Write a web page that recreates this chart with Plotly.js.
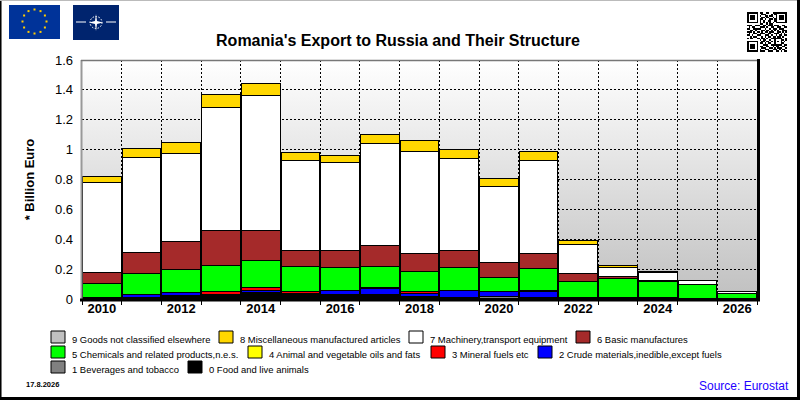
<!DOCTYPE html>
<html>
<head>
<meta charset="utf-8">
<script src="https://cdn.plot.ly/plotly-3.0.1.min.js"></script>
<style>html,body{margin:0;padding:0;background:#fff}</style>
</head>
<body>
<div id="chart-container" style="width:800px;height:400px"></div>
<script>
const years = [2010,2011,2012,2013,2014,2015,2016,2017,2018,2019,2020,2021,2022,2023,2024,2025,2026]

// stacked from the bottom up, billion euro
const food = [.012,.012,.026,.033,.045,.04,.027,.03,.02,.012,.005,.008,.01,.01,.005,.003,.002]
const beverages = [0,0,0,0,0,0,0,0,0,0,.015,0,0,0,0,0,0]
const crude = [0,.015,.015,0,.013,0,.027,.037,.018,.042,.028,.04,0,0,.008,0,0]
const mineral = [0,0,0,.02,.016,.013,0,.013,.015,0,0,.012,0,0,0,0,0]
const oils = [0,0,0,0,0,0,0,0,0,0,0,0,0,0,0,0,0]
const chemicals = [.095,.147,.154,.174,.183,.167,.158,.14,.134,.16,.099,.147,.11,.124,.107,.091,.038]
const basic = [.073,.139,.191,.233,.199,.107,.114,.14,.12,.114,.1,.1,.054,.02,.005,.001,0]
const machinery = [.6,.637,.585,.825,.905,.598,.588,.68,.683,.613,.508,.618,.194,.06,.054,.026,.01]
const misc = [.04,.06,.074,.085,.085,.055,.045,.06,.07,.06,.055,.065,.027,.013,.006,.002,.002]
const unclassified = [0,0,0,0,0,0,0,0,0,0,0,0,0,0,0,0,0]

const seriesValues = [food, beverages, crude, mineral, oils, chemicals, basic, machinery, misc, unclassified]
const seriesNames = ['0 Food and live animals', '1 Beverages and tobacco', '2 Crude materials,inedible,except fuels',
    '3 Mineral fuels etc', '4 Animal and vegetable oils and fats', '5 Chemicals and related products,n.e.s.',
    '6 Basic manufactures', '7 Machinery,transport equipment', '8 Miscellaneous manufactured articles',
    '9 Goods not classified elsewhere']
const seriesColors = ['#000000', '#808080', '#0000ff', '#ff0000', '#ffff00', '#00ff00', '#a52a2a', '#ffffff', '#ffd700', '#c0c0c0']

// legend layout in page pixels: [box left, text left, box top], same order as the series
const legendSpots = [[188,208,361], [51,71,361], [538,558,346], [431,451,346], [248,268,346],
    [51,71,346], [576,596,331], [409,429,331], [219,239,331], [51,71,331]]

const qrRows = [
    '1111111011001100111111111','1000001001110001011000001','1011101010011011001011101',
    '1011101001101100101011101','1011101011010011011011101','1000001010100110011000001',
    '1111111010101010101111111','0000000011001011000000000','1110011100110111011100110',
    '0101100011101001100110011','1100111110010010111011100','0011010001101101010100111',
    '1110101101011011100110101','0100110011100110011101010','1101001110011101001011011',
    '0010110001010110110110100','1011001101101001111111001','0000000010110010010001101',
    '1111111001101101010101010','1000001011010110010001100','1011101000111001111111011',
    '1011101011001100101100110','1011101001110011010111001','1000001010011100111010110',
    '1111111011100111001101011']

const W = 800, H = 400
const plot = {l: 82, r: 757, t: 60, b: 299}
const px = x => (x - plot.l) / (plot.r - plot.l)
const py = y => (plot.b - y) / (plot.b - plot.t)

function svgImage(svg, x0, y0, x1, y1, layer) {
    return {
        source: 'data:image/svg+xml;charset=utf-8,' + encodeURIComponent(svg),
        xref: 'paper', yref: 'paper',
        x: px(x0), y: py(y0),
        sizex: px(x1) - px(x0), sizey: py(y0) - py(y1),
        sizing: 'stretch', xanchor: 'left', yanchor: 'top', layer: layer || 'above'
    }
}

function gradientSvg() {
    return '<svg xmlns="http://www.w3.org/2000/svg" width="10" height="100" preserveAspectRatio="none">' +
        '<defs><linearGradient id="g" x1="0" y1="0" x2="0" y2="1">' +
        '<stop offset="0" stop-color="#ffffff"/><stop offset="1" stop-color="#c0c0c0"/></linearGradient></defs>' +
        '<rect width="10" height="100" fill="url(#g)"/></svg>'
}

function euFlagSvg() {
    let s = '<svg xmlns="http://www.w3.org/2000/svg" width="51" height="34"><rect width="51" height="34" fill="#003399"/>'
    for (let i = 0; i < 12; i++) {
        const a = i * Math.PI / 6
        s += '<rect x="' + (24.5 + 12 * Math.sin(a)) + '" y="' + (15.5 - 12 * Math.cos(a)) + '" width="2" height="2" fill="#ffcc00"/>'
    }
    return s + '</svg>'
}

function natoFlagSvg() {
    return '<svg xmlns="http://www.w3.org/2000/svg" width="46" height="35"><rect width="46" height="35" fill="#00246e"/>' +
        '<g fill="#fff"><rect x="3" y="16.5" width="10" height="1"/><rect x="33" y="16.5" width="10" height="1"/>' +
        '<path d="M23 9 L24 16 L30 17.5 L24 19 L23 26 L22 19 L16 17.5 L22 16 Z"/></g>' +
        '<circle cx="23" cy="17.5" r="6" fill="none" stroke="#fff" stroke-width="1" stroke-dasharray="1.5,1.5"/></svg>'
}

function qrSvg() {
    const n = qrRows.length
    let s = '<svg xmlns="http://www.w3.org/2000/svg" width="' + n + '" height="' + n + '" shape-rendering="crispEdges">'
    qrRows.forEach((row, y) => {
        row.split('').forEach((c, x) => {
            if (c === '1') s += '<rect x="' + x + '" y="' + y + '" width="1" height="1"/>'
        })
    })
    return s + '</svg>'
}

function frameLine(x0, y0, x1, y1, color, width) {
    return {type: 'line', xref: 'paper', yref: 'paper', x0: px(x0), y0: py(y0), x1: px(x1), y1: py(y1),
        line: {color: color, width: width}, layer: 'above'}
}

function note(text, x, y, size, color, bold) {
    return {xref: 'paper', yref: 'paper', x: px(x), y: py(y), xanchor: 'left', yanchor: 'middle',
        text: bold ? '<b>' + text + '</b>' : text, showarrow: false, borderpad: 0,
        font: {family: 'Liberation Sans', size: size, color: color}}
}

const data = seriesNames.map((name, i) => ({
    x: years,
    y: seriesValues[i],
    type: 'bar',
    name: name,
    showlegend: false,
    hoverinfo: 'x+y+name',
    marker: {color: seriesColors[i], line: {color: '#000', width: 1}}
}))

const legendBoxes = legendSpots.map((p, i) => ({
    type: 'rect', xref: 'paper', yref: 'paper',
    x0: px(p[0]), x1: px(p[0] + 14), y0: py(p[2]), y1: py(p[2] + 12),
    fillcolor: seriesColors[i], line: {color: '#000', width: 1}, layer: 'above'
}))

const frame = [
    frameLine(0.5, 0, 0.5, 398, '#000', 1),
    frameLine(1.5, 0, 1.5, 398, '#777', 1),
    frameLine(0, 0.5, 800, 0.5, '#bbb', 1),
    frameLine(798.5, 0, 798.5, 400, '#000', 3),
    frameLine(0, 398.5, 800, 398.5, '#000', 3),
    frameLine(81.5, 60, 81.5, 300, '#999', 2),
    frameLine(81, 60.5, 759, 60.5, '#777', 1.5),
    frameLine(758.5, 59, 758.5, 301, '#000', 3),
    frameLine(80, 300, 760, 300, '#000', 3)
]

const layout = {
    width: W,
    height: H,
    autosize: false,
    margin: {l: plot.l, r: W - plot.r, t: plot.t, b: H - plot.b, pad: 0},
    paper_bgcolor: '#ffffff',
    plot_bgcolor: 'rgba(0,0,0,0)',
    barmode: 'stack',
    bargap: 0.025,
    showlegend: false,
    title: {
        text: "<b>Romania's Export to Russia and Their Structure</b>",
        x: 398 / W, xanchor: 'center', y: 1 - 40 / H, yanchor: 'middle',
        font: {family: 'Liberation Sans', size: 16, color: '#000'}
    },
    xaxis: {
        range: [2009.5, 2026.5],
        tick0: 2010,
        dtick: 2,
        showgrid: false,
        zeroline: false,
        showline: false,
        ticks: '',
        tickformat: 'd',
        tickfont: {family: 'Liberation Sans', size: 13, color: '#000', weight: 'bold'},
        ticklabelstandoff: 0,
        minor: {
            tick0: 2009.5, dtick: 1, showgrid: true, griddash: '2px,2px', gridcolor: '#000', gridwidth: 1,
            ticks: 'outside', ticklen: 5, tickcolor: '#000', tickwidth: 1
        }
    },
    yaxis: {
        range: [0, 1.6],
        tick0: 0,
        dtick: 0.2,
        showgrid: true,
        griddash: '2px,2px',
        gridcolor: '#000',
        gridwidth: 1,
        zeroline: false,
        showline: false,
        ticks: '',
        ticklabelstandoff: 8,
        tickfont: {family: 'Liberation Sans', size: 13, color: '#000'},
        title: {
            text: '<b>* Billion Euro</b>',
            standoff: 17,
            font: {family: 'Liberation Sans', size: 13, color: '#000'}
        }
    },
    images: [
        svgImage(gradientSvg(), plot.l, plot.t, plot.r, plot.b, 'below'),
        svgImage(euFlagSvg(), 9, 5, 60, 39),
        svgImage(natoFlagSvg(), 73, 5, 119, 40),
        svgImage(qrSvg(), 747, 12, 787, 52)
    ],
    shapes: frame.concat(legendBoxes),
    annotations: legendSpots.map((p, i) => note(seriesNames[i], p[1], p[2] + 8.5, 9.45, '#000', false)).concat([
        note('17.8.2026', 25, 384, 7.5, '#000', true),
        note('Source: Eurostat', 698, 386, 12, '#2200ff', false)
    ])
}

Plotly.newPlot('chart-container', data, layout, {displayModeBar: false, staticPlot: true})
</script>
</body>
</html>
